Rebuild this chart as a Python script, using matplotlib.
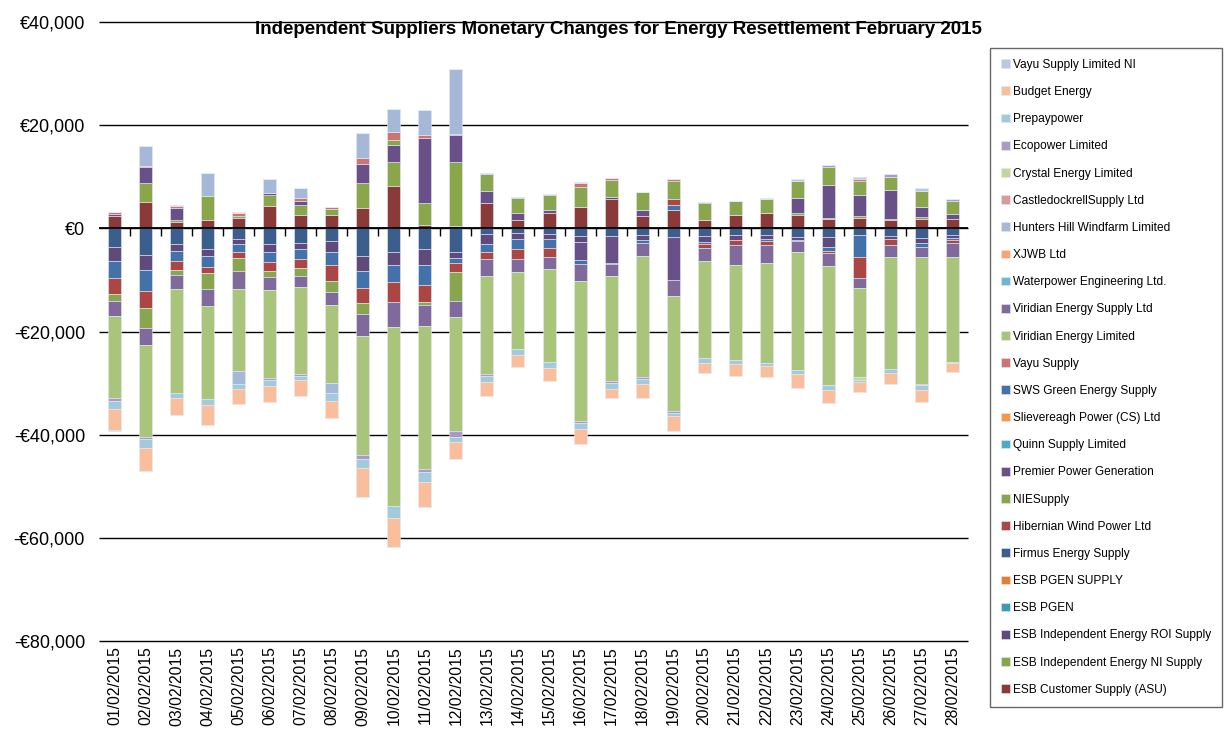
import numpy as np
import matplotlib
matplotlib.use("Agg")
import matplotlib.pyplot as plt
from matplotlib.ticker import FuncFormatter

plt.rcParams['font.family'] = ['Liberation Sans', 'DejaVu Sans']

days = ["01/02/2015", "02/02/2015", "03/02/2015", "04/02/2015", "05/02/2015", "06/02/2015", "07/02/2015",
        "08/02/2015", "09/02/2015", "10/02/2015", "11/02/2015", "12/02/2015", "13/02/2015", "14/02/2015",
        "15/02/2015", "16/02/2015", "17/02/2015", "18/02/2015", "19/02/2015", "20/02/2015", "21/02/2015",
        "22/02/2015", "23/02/2015", "24/02/2015", "25/02/2015", "26/02/2015", "27/02/2015", "28/02/2015"]

# daily resettlement amounts, € thousand
esb_asu = [2.3, 5.1, 1.3, 1.6, 2.0, 4.35, 2.6, 2.6, 3.9, 8.2, 0.6, 0.45, 5.0, 1.6,
           3.05, 4.1, 5.65, 2.4, 3.6, 1.6, 2.6, 2.9, 2.6, 1.8, 2.0, 1.6, 1.8, 1.8]
esb_ni = [0, 3.7, 0.3, 4.7, 0.45, 2.1, 1.95, 1.2, 4.9, 4.6, 4.3, 12.5, 0, 0,
          0, 0, 0, 0, 0, 0, 0, 0, 0.3, 0.3, 0.4, 0.3, 0.45, 0]
firmus = [-3.6, -5.1, -3.1, -4.1, -2.1, -3.05, -2.8, -2.4, -5.3, -4.6, -4.1, -4.6, -1.1, -0.85,
          -1.1, -1.4, -1.4, -1.3, -1.6, -1.4, -1.3, -1.3, -1.75, -1.75, -1.3, -1.5, -1.8, -1.3]
esb_roi = [-2.7, -3.0, -1.2, -1.3, -0.9, -1.5, -1.2, -2.1, -3.0, -2.5, -3.0, -1.2, -1.95, -1.3,
           -1.05, -1.2, 0.5, -1.0, 0, -1.2, -1.0, -0.85, -0.5, -1.95, 0, -0.65, -1.1, -0.65]
premier = [0.5, 3.0, 2.4, 0, 0, 0.45, 0.8, 0, 3.6, 3.4, 12.6, 5.1, 2.3, 1.4,
           0.5, -3.6, -5.25, 1.2, -8.45, 0, 0, 0, 2.9, 6.3, 4.1, 5.6, 1.8, 0.95]
sws = [-3.4, -4.0, -2.0, -2.0, -1.5, -2.05, -1.95, -2.7, -3.35, -3.4, -3.8, -1.0, -1.5, -1.95,
       -1.75, -0.65, -0.25, -0.5, 1.0, -0.5, 0, -0.3, -0.3, -0.65, -4.2, 0, -0.65, -0.3]
hibernian = [-3.1, -3.4, -1.75, -1.3, -1.3, -1.7, -1.8, -3.0, -2.8, -3.7, -3.3, -1.6, -1.3, -1.75,
             -1.6, 0, 0, 0, 1.1, -0.7, -0.9, -0.8, 0, -0.5, -4.2, -1.0, 0, -0.65]
nie = [-1.2, -3.9, -1.0, -3.1, -2.5, -1.2, -1.4, -2.1, -2.2, 0.85, -0.65, -5.6, 3.25, 2.9,
       2.9, 3.9, 3.25, 3.4, 3.45, 3.3, 2.7, 2.7, 3.4, 3.55, 2.6, 2.45, 3.25, 2.6]
viridian_supply = [-2.9, -3.2, -2.7, -3.2, -3.4, -2.5, -2.3, -2.6, -4.3, -4.9, -4.1, -3.2, -3.4, -2.7,
                   -2.45, -3.4, -2.35, -2.6, -3.1, -2.5, -4.0, -3.55, -1.95, -2.45, -1.95, -2.4, -1.95, -2.7]
viridian_ltd = [-16.0, -17.8, -20.1, -18.1, -16.0, -17.1, -16.8, -15.1, -23.0, -34.8, -27.8, -22.0, -19.0, -14.8,
                -18.0, -27.1, -20.4, -23.4, -22.2, -18.8, -18.3, -19.4, -23.0, -23.1, -17.2, -21.7, -24.6, -20.3]
vayu = [0.3, 0.2, 0.3, 0, 0.45, 0, 0.5, 0.25, 1.2, 1.65, 0.65, 0.25, 0, 0,
        0, 0.8, 0.3, 0, 0.45, 0.3, 0, 0, 0, 0, 0.45, 0, 0, 0]
crystal = [0, 0, 0, 0, 0, 0, 0, 0, 0, 0, 0, 0, 0, 0,
           0, 0, 0, 0, 0, 0, 0, 0, 0, 0, -0.5, 0, 0, 0]
ecopower = [-0.5, -0.45, 0, 0, 0, -0.3, -0.3, 0, -0.85, 0, -0.5, -1.2, -0.3, 0,
            0, -0.45, -0.4, -0.45, -0.45, 0, 0, 0, 0, 0.3, 0, 0.5, -0.3, 0.3]
hunters_hill = [0, 3.9, 0, 4.4, -2.4, 2.6, 1.95, -1.95, 4.9, 4.4, 4.7, 12.6, 0, 0,
                0, 0, 0, 0, 0, 0, 0, 0, 0, 0, 0, 0, 0, 0]
prepaypower = [-1.6, -1.7, -1.0, -1.2, -1.1, -1.2, -0.85, -1.5, -1.65, -2.2, -2.0, -1.1, -1.2, -1.2,
               -1.1, -1.05, -1.1, -0.85, -0.5, -1.0, -0.8, -0.5, -0.65, -0.85, -0.45, -0.8, -0.85, -0.3]
budget = [-4.0, -4.4, -3.25, -3.8, -2.9, -3.1, -3.2, -3.25, -5.6, -5.6, -4.8, -3.2, -2.7, -2.3,
          -2.5, -3.05, -1.7, -2.7, -2.9, -2.0, -2.3, -2.1, -2.8, -2.6, -1.95, -2.1, -2.4, -1.6]
vayu_ni = [-0.2, 0, 0.2, 0, 0.2, 0, 0, 0, 0, 0, 0, 0, 0, 0,
           0, 0.2, 0, 0, 0, 0, 0, 0.3, 0.3, 0, 0.4, 0, 0.45, 0]
waterpower = [0, 0, 0, 0, 0, 0, 0, 0, 0, 0, 0, 0, 0.2, 0.2,
              0.25, 0, 0, 0, 0, 0, 0, 0, 0, 0, 0, 0, 0, 0]
no_change = [0, 0, 0, 0, 0, 0, 0, 0, 0, 0, 0, 0, 0, 0,
             0, 0, 0, 0, 0, 0, 0, 0, 0, 0, 0, 0, 0, 0]

# stacking order
series = [
    ("ESB Customer Supply (ASU)", esb_asu, "#8B3A3A"),
    ("ESB Independent Energy NI Supply", esb_ni, "#8AA64B"),
    ("Firmus Energy Supply", firmus, "#3B5E8C"),
    ("ESB Independent Energy ROI Supply", esb_roi, "#5F4A7B"),
    ("Premier Power Generation", premier, "#6A5088"),
    ("SWS Green Energy Supply", sws, "#4372AA"),
    ("Hibernian Wind Power Ltd", hibernian, "#AA4643"),
    ("NIESupply", nie, "#89A54E"),
    ("Viridian Energy Supply Ltd", viridian_supply, "#80699B"),
    ("Viridian Energy Limited", viridian_ltd, "#A9C47B"),
    ("Vayu Supply", vayu, "#CD7371"),
    ("Crystal Energy Limited", crystal, "#C3D69B"),
    ("Ecopower Limited", ecopower, "#A99BC4"),
    ("Hunters Hill Windfarm Limited", hunters_hill, "#A5B8D8"),
    ("Prepaypower", prepaypower, "#A2CADA"),
    ("Budget Energy", budget, "#F9BE9C"),
    ("Vayu Supply Limited NI", vayu_ni, "#B9C7E0"),
    ("Waterpower Engineering Ltd.", waterpower, "#6FB7CE"),
    ("Quinn Supply Limited", no_change, "#4BACC6"),
    ("ESB PGEN", no_change, "#3C9AB2"),
    ("ESB PGEN SUPPLY", no_change, "#E07F35"),
    ("Slievereagh Power (CS) Ltd", no_change, "#F79646"),
    ("XJWB Ltd", no_change, "#F9A56E"),
    ("CastledockrellSupply Ltd", no_change, "#D99A9A"),
]

legend_order = ["Vayu Supply Limited NI", "Budget Energy", "Prepaypower", "Ecopower Limited",
                "Crystal Energy Limited", "CastledockrellSupply Ltd", "Hunters Hill Windfarm Limited",
                "XJWB Ltd", "Waterpower Engineering Ltd.", "Viridian Energy Supply Ltd",
                "Viridian Energy Limited", "Vayu Supply", "SWS Green Energy Supply",
                "Slievereagh Power (CS) Ltd", "Quinn Supply Limited", "Premier Power Generation",
                "NIESupply", "Hibernian Wind Power Ltd", "Firmus Energy Supply", "ESB PGEN SUPPLY",
                "ESB PGEN", "ESB Independent Energy ROI Supply", "ESB Independent Energy NI Supply",
                "ESB Customer Supply (ASU)"]

W, H = 1229, 749
fig = plt.figure(figsize=(W / 100, H / 100), dpi=100)
ax = fig.add_axes([99 / W, 1 - 641 / H, (968 - 99) / W, (641 - 22) / H])

x = np.arange(len(days))
pos_base = np.zeros(len(days))
neg_base = np.zeros(len(days))
handles = {}
for name, vals, col in series:
    v = np.array(vals) * 1000
    bottom = np.where(v >= 0, pos_base, neg_base)
    bars = ax.bar(x, v, width=0.42, bottom=bottom, color=col,
                  edgecolor="#E4EAF4", linewidth=0.4, zorder=2)
    pos_base += np.clip(v, 0, None)
    neg_base += np.clip(v, None, 0)
    handles[name] = bars

ax.set_xlim(-0.5, len(days) - 0.5)
ax.set_ylim(-80000, 40000)
yt = np.arange(-80000, 40001, 20000)
ax.set_yticks(yt)


def euro(val, pos):
    s = "€{:,.0f}".format(abs(val))
    return "-" + s if val < 0 else s


ax.yaxis.set_major_formatter(FuncFormatter(euro))
ax.tick_params(axis="y", length=0, pad=10, labelsize=13)
ax.hlines(yt, -0.5, len(days) - 0.5, color="black", linewidth=1.0, zorder=1, clip_on=False)
for s in ax.spines.values():
    s.set_visible(False)

ax.axhline(0, color="black", linewidth=1.3, zorder=3)
ax.vlines(np.arange(0.5, len(days) - 0.5, 1), -1400, 0, color="black", linewidth=1.0, zorder=3)

ax.set_xticks(x)
ax.set_xticklabels(days, rotation=90)
ax.tick_params(axis="x", length=0, pad=4, labelsize=11.3)

fig.text(618 / W, 1 - 30 / H, "Independent Suppliers Monetary Changes for Energy Resettlement February 2015",
         ha="center", va="center", fontsize=13.5, fontweight="bold")

leg = fig.legend([handles[n] for n in legend_order], legend_order, loc="upper left",
                 bbox_to_anchor=(990 / W, 1 - 706 / H, 232 / W, 658 / H), mode="expand",
                 frameon=True, fancybox=False, edgecolor="#404040", fontsize=8.6,
                 labelspacing=1.27, handlelength=0.75, handleheight=0.75, handletextpad=0.3,
                 borderpad=0.91, borderaxespad=0)
leg.get_frame().set_linewidth(1.0)

fig.savefig("out.png", dpi=100)
